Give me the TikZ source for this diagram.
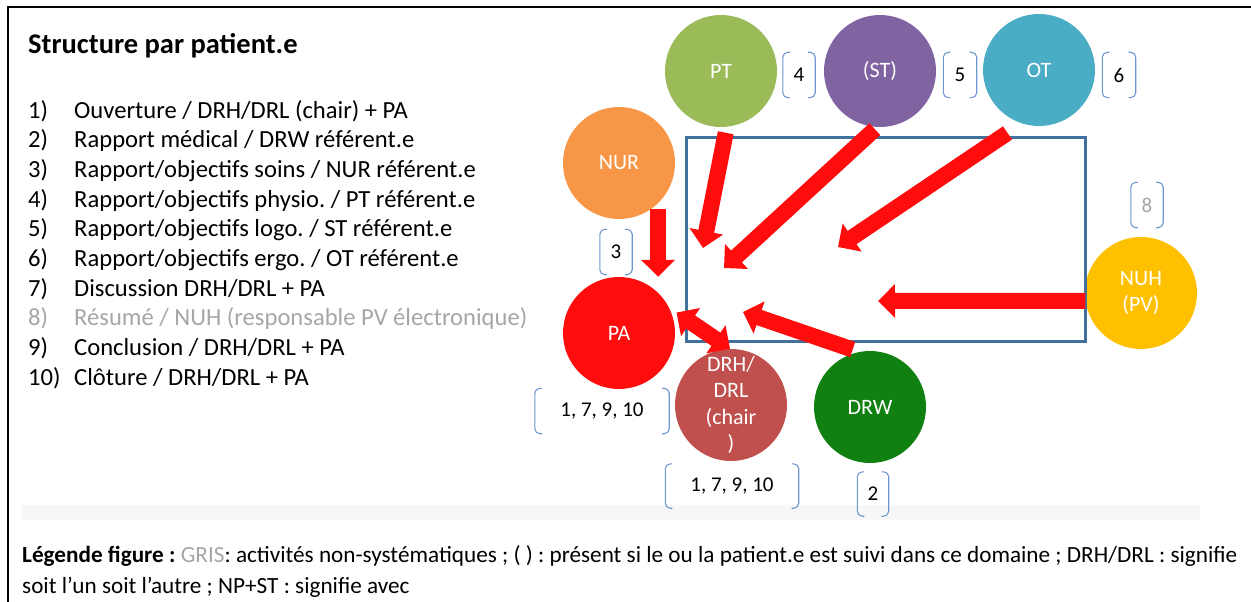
\documentclass[tikz,border=0pt]{standalone}
\usepackage{fontspec}
\setmainfont{Carlito}
\usetikzlibrary{arrows.meta}
\frenchspacing

\definecolor{ptgreen}{HTML}{9BBB59}
\definecolor{stpurple}{HTML}{8064A2}
\definecolor{otblue}{HTML}{4BACC6}
\definecolor{nurorange}{HTML}{F79646}
\definecolor{pared}{HTML}{FF0D0D}
\definecolor{drhred}{HTML}{C0504D}
\definecolor{drwgreen}{HTML}{108010}
\definecolor{nuhyellow}{HTML}{FFC000}
\definecolor{arrowred}{HTML}{FF0D0D}
\definecolor{framblue}{HTML}{41719C}
\definecolor{brkblue}{HTML}{6F97CF}
\definecolor{grisclair}{HTML}{A6A6A6}
\definecolor{bandgray}{HTML}{F7F7F7}

% bracket lines left and right of a number node
\newcommand\brackets[1]{%
  \draw[brk] ([xshift=7pt]#1.north west) -- (#1.north west) -- (#1.south west) -- ([xshift=7pt]#1.south west);
  \draw[brk] ([xshift=-7pt]#1.north east) -- (#1.north east) -- (#1.south east) -- ([xshift=-7pt]#1.south east);}

\begin{document}
\begin{tikzpicture}[x=1pt, y=-1pt,
    pers/.style={circle, minimum size=112pt, inner sep=0pt, fill=#1, text=white, align=center, font=\fontsize{22}{26.5}\selectfont},
    nb/.style={inner sep=0pt, minimum height=45pt, font=\fontsize{21}{24}\selectfont},
    brk/.style={draw=brkblue, line width=1.1pt, rounded corners=5pt},
    bigarrow/.style={draw=arrowred, line width=16pt, ->},
    >={Triangle[length=17pt,width=33pt]},
    txt/.style={anchor=base west, inner sep=0pt, font=\fontsize{24.6}{28}\selectfont}]
        \useasboundingbox (0,0) rectangle (1251,602);

        % frame and slide shadow
        \draw[line width=2.5pt] (7,7) -- (1251,7);
        \draw[line width=1.2pt] (8,7) -- (8,602);
        \fill[bandgray] (22,505) rectangle (1200,520);

        % title and list
        \node[txt, font=\fontsize{28.5}{32}\selectfont\bfseries] (title) at (28,54) {Structure par patient.e};
        \node[txt] (n1) at (28,118) {1)};
        \node[txt] (i1) at (74,118) {Ouverture / DRH/DRL (chair) + PA};
        \node[txt] (n2) at (28,147.7) {2)};
        \node[txt] (i2) at (74,147.7) {Rapport médical / DRW référent.e};
        \node[txt] (n3) at (28,177.4) {3)};
        \node[txt] (i3) at (74,177.4) {Rapport/objectifs soins / NUR référent.e};
        \node[txt] (n4) at (28,207.1) {4)};
        \node[txt] (i4) at (74,207.1) {Rapport/objectifs physio. / PT référent.e};
        \node[txt] (n5) at (28,236.8) {5)};
        \node[txt] (i5) at (74,236.8) {Rapport/objectifs logo. / ST référent.e};
        \node[txt] (n6) at (28,266.5) {6)};
        \node[txt] (i6) at (74,266.5) {Rapport/objectifs ergo. / OT référent.e};
        \node[txt] (n7) at (28,296.2) {7)};
        \node[txt] (i7) at (74,296.2) {Discussion DRH/DRL + PA};
        \node[txt, text=grisclair] (n8) at (28,325.9) {8)};
        \node[txt, text=grisclair] (i8) at (74,325.9) {Résumé / NUH (responsable PV électronique)};
        \node[txt] (n9) at (28,355.6) {9)};
        \node[txt] (i9) at (74,355.6) {Conclusion / DRH/DRL + PA};
        \node[txt] (n10) at (28,385.3) {10)};
        \node[txt] (i10) at (74,385.3) {Clôture / DRH/DRL + PA};

        % participants
        \node[pers=ptgreen] (PT) at (721,71) {PT};
        \node[pers=stpurple] (ST) at (880,71) {(ST)};
        \node[pers=otblue] (OT) at (1039,70) {OT};
        \node[pers=nurorange] (NUR) at (619,163) {NUR};
        \node[pers=pared] (PA) at (619,333) {PA};
        \node[pers=drhred] (DRH) at (731,405) {DRH/\\DRL\\(chair\\)};
        \node[pers=drwgreen] (DRW) at (870,407) {DRW};
        \node[pers=nuhyellow] (NUH) at (1141,293) {NUH\\(PV)};

        % order numbers
        \node[nb, minimum width=32pt] (b3) at (616,252) {3};
        \node[nb, minimum width=32pt] (b4) at (799,75) {4};
        \node[nb, minimum width=33pt] (b5) at (960,75) {5};
        \node[nb, minimum width=33pt] (b6) at (1119,75) {6};
        \node[nb, minimum width=32pt, text=grisclair] (b8) at (1147,205) {8};
        \node[nb, minimum width=134pt] (bPA) at (602,411) {1, 7, 9, 10};
        \node[nb, minimum width=133pt, minimum height=44pt] (bDRH) at (732,486) {1, 7, 9, 10};
        \node[nb, minimum width=31pt, minimum height=44pt] (b2) at (873,494) {2};
        \brackets{b3}
        \brackets{b4}
        \brackets{b5}
        \brackets{b6}
        \brackets{b8}
        \brackets{bPA}
        \brackets{bDRH}
        \brackets{b2}

        % meeting table
        \draw[framblue, line width=3pt] (686,137) rectangle (1085,341);

        \coordinate (tipPT) at (703,248);
        \coordinate (tipST) at (724,268);
        \coordinate (tipOT) at (838,247);
        \coordinate (tipNUH) at (878,301);
        \coordinate (tipDRW) at (743,312);

        \draw[bigarrow, shorten <=6pt] (PT.-84) -- (tipPT);
        \draw[bigarrow, shorten <=3pt] (ST.-93) -- (tipST);
        \draw[bigarrow, shorten <=17pt] (OT.-108) -- (tipOT);
        \draw[bigarrow, shorten <=6pt] (NUR.-46) -- (NUR.-46 |- PA.north);
        \draw[bigarrow] (NUH.188) -- (tipNUH);
        \draw[bigarrow, shorten <=7pt] (DRW.101) -- (tipDRW);
        \draw[bigarrow, <->, shorten <=9pt] (PA.27) -- (DRH.91);

        % legend
        \node[txt, font=\fontsize{23.2}{26}\selectfont] (leg1) at (22,562.5) {\textbf{Légende figure :} \textcolor{grisclair}{GRIS}: activités non-systématiques ; ( ) : présent si le ou la patient.e est suivi dans ce domaine ; DRH/DRL : signifie};
        \node[txt, font=\fontsize{23.2}{26}\selectfont] (leg2) at (22,593.5) {soit l’un soit l’autre ; NP+ST : signifie avec};
\end{tikzpicture}
\end{document}
